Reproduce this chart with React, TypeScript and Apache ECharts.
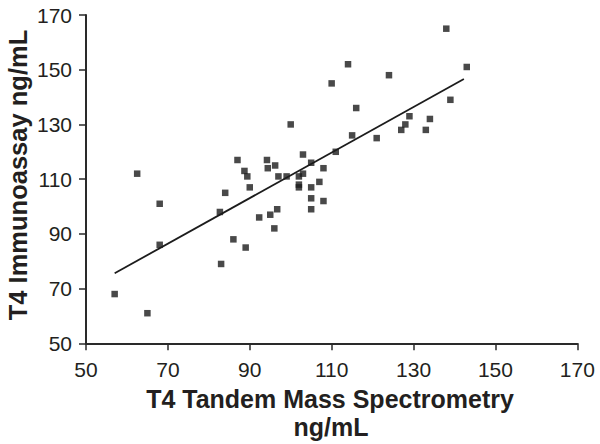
import React, { useEffect, useRef } from "react";
import * as echarts from "echarts";

const tandemMS: number[] = [
  57, 65, 62.5, 68, 68, 82.7, 83, 84, 86, 87, 88.7, 89.4, 89, 90, 92.3, 94.2, 94.4, 95, 96.2, 96, 96.7,
  97, 99, 100, 102, 102, 102, 103, 103, 105, 105, 105, 105, 107, 108, 108, 110, 111, 114, 116, 115,
  124, 121, 127, 128, 129, 133, 134, 138, 139, 143,
];
const immunoassay: number[] = [
  68, 61, 112, 101, 86, 98, 79, 105, 88, 117, 113, 111, 85, 107, 96, 117, 114, 97, 115, 92, 99,
  111, 111, 130, 111, 108, 107, 119, 112, 116, 107, 103, 99, 109, 114, 102, 145, 120, 152, 136, 126,
  148, 125, 128, 130, 133, 128, 132, 165, 139, 151,
];
const fitLineX: number[] = [57, 142.3];
const fitLineY: number[] = [75.6, 146.6];

const axisMin = 50;
const axisMax = 170;
const axisStep = 20;
const xTitle = "T4 Tandem Mass Spectrometry";
const xUnit = "ng/mL";
const yTitle = "T4 Immunoassay ng/mL";

export default function App() {
  const ref = useRef<HTMLDivElement>(null);
  useEffect(() => {
    if (!ref.current) return;
    const chart = echarts.init(ref.current, null, { renderer: "svg" });
    const font = "Arial, 'Liberation Sans', Helvetica, sans-serif";
    const ink = "#231f20";
    const axisCommon = {
      type: "value" as const,
      min: axisMin,
      max: axisMax,
      interval: axisStep,
      splitLine: { show: false },
      axisLine: { show: true, lineStyle: { color: "#2a2a2a", width: 2 } },
      axisTick: { show: true, inside: false, length: 7, lineStyle: { color: "#2a2a2a", width: 1.5 } },
    };
    chart.setOption({
      animation: false,
      backgroundColor: "#ffffff",
      grid: { left: 86, right: 22.7, top: 15, bottom: 100.7, outerBoundsMode: "none", containLabel: false },
      xAxis: {
        ...axisCommon,
        axisLabel: { color: ink, fontSize: 21, fontFamily: font, margin: 16 },
      },
      yAxis: {
        ...axisCommon,
        axisLabel: { color: ink, fontSize: 21, fontFamily: font, margin: 14 },
      },
      graphic: [
        {
          type: "text",
          x: 330,
          y: 399,
          style: {
            text: xTitle,
            fill: ink,
            font: `bold 25px ${font}`,
            textAlign: "center",
            textVerticalAlign: "middle",
          },
        },
        {
          type: "text",
          x: 331,
          y: 427,
          style: {
            text: xUnit,
            fill: ink,
            font: `bold 25px ${font}`,
            textAlign: "center",
            textVerticalAlign: "middle",
          },
        },
        {
          type: "text",
          x: 17.5,
          y: 175,
          rotation: Math.PI / 2,
          style: {
            text: yTitle,
            fill: ink,
            font: `bold 25.5px ${font}`,
            textAlign: "center",
            textVerticalAlign: "middle",
          },
        },
      ],
      series: [
        {
          type: "scatter",
          symbol: "rect",
          symbolSize: 6.5,
          itemStyle: { color: "#1c1c1c" },
          data: tandemMS.map((x, i) => [x, immunoassay[i]]),
          z: 3,
        },
        {
          type: "line",
          symbol: "none",
          lineStyle: { color: "#1c1c1c", width: 1.8 },
          data: fitLineX.map((x, i) => [x, fitLineY[i]]),
          z: 2,
        },
      ],
    });
    return () => chart.dispose();
  }, []);
  return <div ref={ref} style={{ width: 600, height: 444, position: "absolute", left: 0, top: 0 }} />;
}
